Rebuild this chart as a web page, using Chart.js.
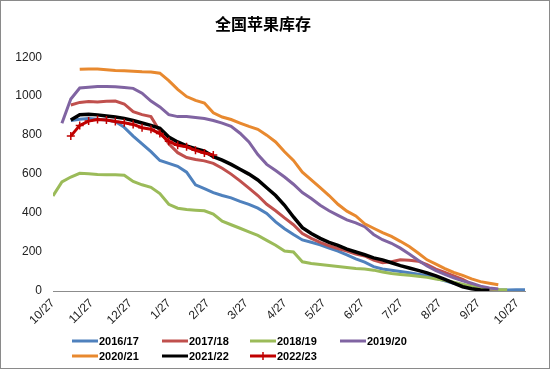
<!DOCTYPE html>
<html>
<head>
<meta charset="utf-8">
<script src="https://cdn.jsdelivr.net/npm/chart.js@4.4.0/dist/chart.umd.min.js"></script>
<style>
  html, body { margin: 0; padding: 0; background: #fff; }
  #frame { width: 548px; height: 367px; border: 1px solid #8a8a8a; }
  canvas { display: block; }
</style>
</head>
<body>
<div id="frame"><canvas id="chart" width="548" height="367"></canvas></div>
<script>
// x axis: weeks counted from 10/27, one label per month
const tickLabels = ['10/27', '11/27', '12/27', '1/27', '2/27', '3/27', '4/27',
  '5/27', '6/27', '7/27', '8/27', '9/27', '10/27'];
const weeksPerMonth = 52.14 / 12;

const seasonLabels = ['2016/17', '2017/18', '2018/19', '2019/20', '2020/21', '2021/22', '2022/23'];
const seasonColors = ['#4F81BD', '#C0504D', '#9BBB59', '#8064A2', '#E8892F', '#000000', '#C00000'];

// weekly stock (万吨), each series starts at the given week
const start1617 = 2;
const stock1617 = [875, 882, 885, 882, 878, 870, 840, 795, 755, 715, 670, 655, 640, 610, 545, 525,
  505, 490, 478, 460, 445, 425, 398, 355, 320, 290, 262, 250, 237, 220, 205, 185, 165, 148, 125,
  113, 106, 100, 94, 86, 78, 65, 52, 40, 28, 16, 9, 5, 5, 5, 6, 6];

const start1718 = 2;
const stock1718 = [955, 968, 972, 970, 974, 975, 960, 920, 905, 895, 820, 755, 710, 685, 675, 668,
  655, 630, 600, 565, 528, 490, 445, 412, 375, 340, 295, 270, 250, 232, 218, 205, 190, 180, 158,
  145, 150, 160, 158, 153, 135, 112, 95, 78, 60, 35, 18, 10, 8];

const start1819 = 0;
const stock1819 = [488, 560, 585, 604, 602, 598, 597, 597, 594, 562, 545, 532, 500, 445, 425, 418,
  415, 412, 395, 358, 340, 322, 303, 285, 260, 235, 205, 200, 150, 141, 136, 131, 126, 121, 116,
  113, 107, 98, 90, 85, 81, 76, 70, 62, 55, 45, 35, 25, 18, 12, 8, 6];

const start1920 = 1;
const stock1920 = [861, 985, 1042, 1046, 1050, 1049, 1048, 1045, 1040, 1015, 975, 945, 905, 895,
  895, 890, 885, 875, 862, 845, 810, 765, 700, 650, 618, 585, 548, 505, 475, 440, 412, 388, 365,
  350, 330, 290, 263, 245, 220, 190, 158, 128, 105, 85, 68, 52, 40, 25, 15, 10];

const start2021 = 3;
const stock2021 = [1138, 1140, 1140, 1136, 1132, 1130, 1128, 1125, 1124, 1118, 1080, 1035, 998,
  978, 965, 915, 893, 880, 862, 845, 830, 800, 765, 715, 670, 610, 570, 530, 490, 445, 410, 385,
  345, 322, 300, 280, 255, 228, 195, 160, 138, 115, 95, 80, 62, 48, 40, 32];

const start2122 = 2;
const stock2122 = [878, 905, 907, 904, 898, 893, 886, 875, 862, 850, 835, 790, 765, 745, 730, 718,
  690, 672, 650, 625, 600, 570, 530, 490, 440, 380, 325, 295, 270, 250, 234, 215, 200, 186, 170,
  160, 145, 130, 118, 106, 93, 78, 60, 40, 22, 12, 5, 3];

const start2223 = 2;
const stock2223 = [795, 850, 872, 880, 878, 870, 864, 855, 838, 830, 808, 768, 748, 740, 722, 708, 698];

const starts = [start1617, start1718, start1819, start1920, start2021, start2122, start2223];
const stocks = [stock1617, stock1718, stock1819, stock1920, stock2021, stock2122, stock2223];

function toPoints(first, values) {
  return values.map((v, i) => ({ x: first + i, y: v }));
}

const datasets = seasonLabels.map((label, i) => {
  const last = i === seasonLabels.length - 1;
  return {
    label: label,
    data: toPoints(starts[i], stocks[i]),
    borderColor: seasonColors[i],
    backgroundColor: seasonColors[i],
    borderWidth: i === 5 ? 3.5 : 3,
    pointRadius: last ? 4 : 0,
    pointStyle: 'cross',
    pointBorderWidth: 1.5,
    pointBorderColor: seasonColors[i],
    tension: 0,
    order: seasonLabels.length - i
  };
});

// legend in fixed columns, like the spreadsheet one
const rowLegend = {
  id: 'rowLegend',
  afterDraw(chart, args, opts) {
    const ctx = chart.ctx;
    ctx.save();
    ctx.font = opts.font;
    ctx.textBaseline = 'middle';
    chart.data.datasets.forEach((ds, i) => {
      const x = opts.colX[i % 4];
      const y = opts.rowY[Math.floor(i / 4)];
      ctx.strokeStyle = ds.borderColor;
      ctx.lineWidth = 3;
      ctx.beginPath();
      ctx.moveTo(x, y);
      ctx.lineTo(x + opts.lineLen, y);
      ctx.stroke();
      if (ds.pointRadius > 0) {
        const cx = x + opts.lineLen / 2;
        ctx.lineWidth = 1.5;
        ctx.beginPath();
        ctx.moveTo(cx, y - 4);
        ctx.lineTo(cx, y + 4);
        ctx.stroke();
      }
      ctx.fillStyle = '#000';
      ctx.fillText(ds.label, x + opts.lineLen + 1, y + 1);
    });
    ctx.restore();
  }
};

new Chart(document.getElementById('chart'), {
  type: 'line',
  data: { datasets: datasets },
  plugins: [rowLegend],
  options: {
    responsive: false,
    animation: false,
    layout: { padding: { left: 0, right: 24, top: 0, bottom: 37 } },
    plugins: {
      legend: { display: false },
      tooltip: { enabled: false },
      title: {
        display: true,
        text: '全国苹果库存',
        color: '#000',
        font: { family: '"Noto Sans CJK SC"', size: 16, weight: 'bold' },
        padding: { top: 13, bottom: 24 }
      },
      rowLegend: {
        font: 'bold 11px "Liberation Sans", Arial, sans-serif',
        colX: [71, 161, 249, 339],
        rowY: [340, 355],
        lineLen: 26
      }
    },
    scales: {
      x: {
        type: 'linear',
        min: 0,
        max: 53,
        grid: { display: false, drawTicks: false },
        border: { display: true, color: '#8c8c8c', width: 1 },
        afterBuildTicks: (scale) => {
          scale.ticks = tickLabels.map((t, i) => ({ value: i * weeksPerMonth }));
        },
        afterFit: (scale) => { scale.height = 40; },
        ticks: {
          autoSkip: false,
          minRotation: 45,
          maxRotation: 45,
          padding: 5,
          color: '#222',
          font: { family: '"Liberation Sans", Arial, sans-serif', size: 12 },
          callback: (value, index) => tickLabels[index]
        }
      },
      y: {
        min: 0,
        max: 1200,
        grid: { display: false, drawTicks: false },
        border: { display: false },
        afterFit: (scale) => { scale.width = 52; },
        ticks: {
          stepSize: 200,
          padding: 11,
          color: '#222',
          font: { family: '"Liberation Sans", Arial, sans-serif', size: 12 },
          callback: (value) => String(value)
        }
      }
    }
  }
});
</script>
</body>
</html>
